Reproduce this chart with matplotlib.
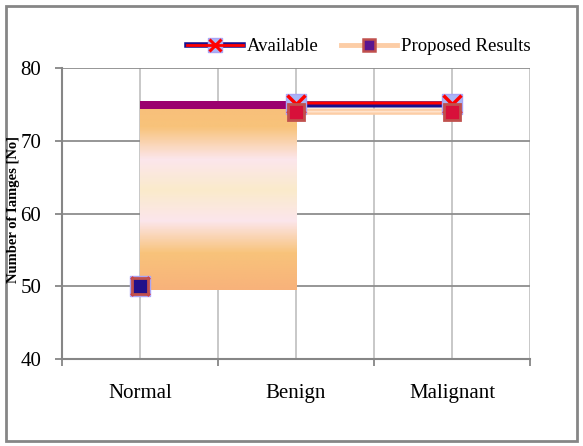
import matplotlib.pyplot as plt
from matplotlib.patches import Rectangle
from matplotlib.colors import LinearSegmentedColormap
from matplotlib.lines import Line2D
import matplotlib.transforms as mtransforms
import numpy as np

categories = ["Normal", "Benign", "Malignant"]
available = [50, 75, 75]
proposed = [50, 74, 74]
# odd filled block left between the first two categories in the original
block_low, block_mid, block_high = 49.5, 74.4, 75.4

plt.rcParams['font.family'] = ['Liberation Serif', 'DejaVu Serif']
plt.rcParams['font.size'] = 15

fig = plt.figure(figsize=(5.83, 4.46), dpi=100)
ax = fig.add_axes([0.1063, 0.195, 0.803, 0.6525])

x = np.arange(len(categories))

# grid
for v in np.arange(-0.5, len(categories), 0.5):
    ax.axvline(v, color='#C4C4C4', lw=1.3, zorder=0)
for v in [50, 60, 70, 80]:
    ax.axhline(v, color='#8E8E8E', lw=1.3, zorder=0)

# Available: two tone line
up = mtransforms.offset_copy(ax.transData, fig=fig, x=0, y=1.0, units='points')
ax.plot(x, available, color='#1A0F8C', lw=4.5, zorder=2)
ax.plot(x, available, color='#FF0000', lw=2.2, zorder=2, transform=up)

# Proposed line
ax.plot(x, proposed, color='#FCCDA6', lw=4.5, zorder=2)
ax.plot(x, proposed, color='#FFE3CC', lw=1.2, zorder=2)

# gradient block (covers the first segment, as in the original)
grad = LinearSegmentedColormap.from_list('blk', [
    (0.0, '#F8B27B'), (0.2, '#F8C37A'), (0.38, '#FCE6EC'),
    (0.55, '#FAEBCB'), (0.72, '#FCE6EC'), (0.9, '#F8C37A'), (1.0, '#F8C07A')])
img = np.linspace(0, 1, 200).reshape(-1, 1)
ax.imshow(img, cmap=grad, origin='lower', aspect='auto',
          extent=(x[0], x[1], block_low, block_mid), zorder=3)
ax.add_patch(Rectangle((x[0], block_mid), x[1] - x[0], block_high - block_mid,
                       facecolor='#9B006E', edgecolor='none', zorder=3))
ax.set_xlim(-0.5, len(categories) - 0.5)
ax.set_ylim(40, 80)

# markers
ax.plot(x, available, ls='none', marker='s', ms=15, mfc='#A9B6F6', mec='#A9A4F5', zorder=4)
ax.plot(x, available, ls='none', marker='x', ms=13, mec='#FF0000', mew=2.5, zorder=4)
inner = ['#22108A', '#D8103A', '#D8103A']
for xi, yi, c in zip(x, proposed, inner):
    ax.plot([xi], [yi], ls='none', marker='s', ms=11, mfc=c, mec='#C0504D', mew=2, zorder=5)

# legend proxies
h1a = Line2D([], [], color='#1A0F8C', lw=4, marker='s', ms=10, mfc='#A9B6F6', mec='#A9A4F5')
h1b = Line2D([], [], color='#FF0000', lw=2, marker='x', ms=9, mec='#FF0000', mew=2.2)
h2 = Line2D([], [], color='#FCCDA6', lw=3.5, marker='s', ms=9, mfc='#5A1690', mec='#C0504D', mew=1.8)
fig.legend([(h1a, h1b), h2], ["Available", "Proposed Results"], loc='center',
           bbox_to_anchor=(0.615, 0.895), ncol=2, frameon=False, handlelength=3.0,
           handletextpad=0.2, columnspacing=1.2, fontsize=13.5)

# axes styling
for s in ['top', 'right']:
    ax.spines[s].set_visible(False)
for s in ['left', 'bottom']:
    ax.spines[s].set_color('#868686')
    ax.spines[s].set_linewidth(1.5)
ax.set_yticks([40, 50, 60, 70, 80])
ax.tick_params(axis='y', length=5, color='#868686', width=1.3, pad=10)
ax.set_xticks(np.arange(-0.5, len(categories), 1.0))
ax.set_xticklabels([])
ax.tick_params(axis='x', which='major', length=5, color='#868686', width=1.3)
ax.set_xticks(x, minor=True)
ax.set_xticklabels(categories, minor=True)
ax.tick_params(axis='x', which='minor', length=0, pad=18)

fig.text(0.0235, 0.531, "Number of Iamges [No]", rotation=90, ha='center', va='center',
         fontsize=10.5, fontweight='bold')

fig.patches.append(Rectangle((0.011, 0.011), 0.978, 0.975, transform=fig.transFigure,
                             fill=False, edgecolor='#868686', lw=2))

fig.savefig('out.png', dpi=100)
